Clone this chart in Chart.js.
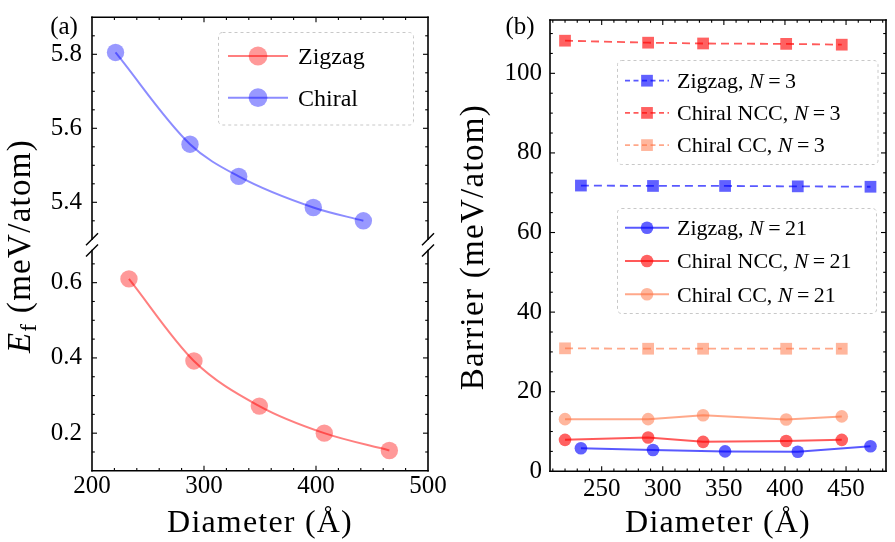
<!DOCTYPE html>
<html><head><meta charset="utf-8">
<script src="https://cdn.jsdelivr.net/npm/chart.js@4/dist/chart.umd.min.js"></script>
<style>
html,body{margin:0;padding:0;background:#fff;}
#wrap{position:relative;width:895px;height:542px;overflow:hidden;background:#fff;}
canvas{position:absolute;left:0;top:0;}
</style></head><body>
<div id="wrap">
<canvas id="cUp" width="895" height="542"></canvas>
<canvas id="cLo" width="895" height="542"></canvas>
<canvas id="cB" width="895" height="542"></canvas>
</div>
<script>
// ---------------- data ----------------
// panel (a)
const diamChiralA = [221, 287.5, 331, 397.6, 442.3];
const efChiral    = [5.805, 5.557, 5.47, 5.386, 5.35];
const diamZigzagA = [233, 291, 349.4, 407.4, 465.5];
const efZigzag    = [0.61, 0.392, 0.272, 0.2, 0.154];
const labelsA     = ['Zigzag', 'Chiral'];
// panel (b)
const diamZigzagB    = [233, 292, 351, 410.5, 470];
const diamChiralB    = [220, 288, 333, 401, 446.5];
const barZigzag3     = [71.8, 71.7, 71.7, 71.6, 71.5];
const barChiralNCC3  = [108.2, 107.7, 107.5, 107.4, 107.2];
const barChiralCC3   = [30.9, 30.8, 30.8, 30.8, 30.8];
const barZigzag21    = [5.8, 5.35, 5.0, 4.9, 6.3];
const barChiralNCC21 = [7.9, 8.5, 7.4, 7.6, 7.9];
const barChiralCC21  = [13.1, 13.1, 14.1, 13.0, 13.8];
const labelsB = ['Zigzag, N=3', 'Chiral NCC, N=3', 'Chiral CC, N=3',
                 'Zigzag, N=21', 'Chiral NCC, N=21', 'Chiral CC, N=21'];
// tick labels
const xTicksA  = [200, 300, 400, 500];
const yTicksUp = [5.4, 5.6, 5.8];
const yTicksLo = [0.2, 0.4, 0.6];
const xTicksB  = [250, 300, 350, 400, 450];
const yTicksB  = [0, 20, 40, 60, 80, 100];
const xTitle = 'Diameter (Å)';
const yTitleB = 'Barrier (meV/atom)';

// ---------------- styles ----------------
const FONT = '"Liberation Serif", "Times New Roman", serif';
const ST = {
  zigA:  {line:'rgba(255,0,0,0.5)',  fill:'rgba(255,0,0,0.4)',  r:8.7, shape:'circle', lw:2, smooth:true},
  chiA:  {line:'rgba(0,0,255,0.45)', fill:'rgba(0,0,255,0.4)',  r:8.7, shape:'circle', lw:2, smooth:true},
  zig3:  {line:'rgba(0,0,255,0.65)', fill:'rgba(0,0,255,0.62)', r:8.3, shape:'rect', lw:1.8, dash:[8,5]},
  ncc3:  {line:'rgba(255,0,0,0.65)', fill:'rgba(255,0,0,0.62)', r:8.3, shape:'rect', lw:1.8, dash:[8,5]},
  cc3:   {line:'rgba(255,110,60,0.6)', fill:'rgba(255,110,60,0.5)', r:8.3, shape:'rect', lw:1.8, dash:[8,5]},
  zig21: {line:'rgba(0,0,255,0.65)', fill:'rgba(0,0,255,0.62)', r:6.3, shape:'circle', lw:2},
  ncc21: {line:'rgba(255,0,0,0.65)', fill:'rgba(255,0,0,0.62)', r:6.3, shape:'circle', lw:2},
  cc21:  {line:'rgba(255,110,60,0.6)', fill:'rgba(255,110,60,0.5)', r:6.3, shape:'circle', lw:2}
};

function series(xs, ys, st, label) {
  return {
    label,
    data: xs.map((x, i) => ({x, y: ys[i]})),
    borderColor: st.line, backgroundColor: st.fill,
    pointBackgroundColor: st.fill, pointBorderWidth: 0, pointBorderColor: 'rgba(0,0,0,0)',
    pointRadius: st.r, pointHoverRadius: st.r, pointStyle: st.shape,
    borderWidth: st.lw, borderDash: st.dash || [],
    cubicInterpolationMode: st.smooth ? 'monotone' : 'default', tension: 0,
    fill: false, clip: false
  };
}

const tickFont = {family: FONT, size: 25};
function yScale(min, max, ticks, width, tl, fmt) {
  return {
    type: 'linear', position: 'left', min, max, bounds: 'data',
    afterBuildTicks: s => { s.ticks = ticks.map(v => ({value: v})); },
    afterFit: s => { s.width = width; s.paddingTop = 0; s.paddingBottom = 0; },
    grid: {display: false, drawTicks: true, tickLength: tl},
    border: {display: false},
    ticks: {padding: 0, font: tickFont, color: '#000', callback: fmt}
  };
}
function xScale(min, max, ticks, height, tl, show) {
  return {
    type: 'linear', position: 'bottom', min, max, bounds: 'data', display: show,
    afterBuildTicks: s => { s.ticks = ticks.map(v => ({value: v})); },
    afterFit: s => { if (show) s.height = height; s.paddingLeft = 0; s.paddingRight = 0; },
    grid: {display: false, drawTicks: true, tickLength: tl},
    border: {display: false},
    ticks: {padding: 0, font: tickFont, color: '#000', maxRotation: 0, autoSkip: false,
            callback: v => String(Math.round(v))}
  };
}

// ---------------- frame / ticks plugin ----------------
function makeFrame(cfg) {
  return {
    id: 'frame',
    afterDraw(chart) {
      const ctx = chart.ctx, a = chart.chartArea, xs = chart.scales.x, ys = chart.scales.y;
      const has = s => cfg.sides.indexOf(s) >= 0;
      const seg = (x1, y1, x2, y2) => { ctx.beginPath(); ctx.moveTo(x1, y1); ctx.lineTo(x2, y2); ctx.stroke(); };
      const minors = (min, max, step, majors) => {
        const out = [];
        for (let k = Math.ceil(min / step - 1e-9); k * step <= max + 1e-9; k++) {
          const v = k * step;
          if (!majors.some(m => Math.abs(m - v) < step * 1e-3)) out.push(v);
        }
        return out;
      };
      ctx.save();
      ctx.strokeStyle = '#000';
      ctx.lineWidth = 1.1;
      const xt = (vals, len) => vals.forEach(v => {
        const p = xs.getPixelForValue(v);
        if (p < a.left + 1 || p > a.right - 1) return;
        if (has('bottom')) seg(p, a.bottom, p, a.bottom - len);
        if (has('top')) seg(p, a.top, p, a.top + len);
      });
      const yt = (vals, len) => vals.forEach(v => {
        const p = ys.getPixelForValue(v);
        if (p < a.top + 1 || p > a.bottom - 1) return;
        if (has('left')) seg(a.left, p, a.left + len, p);
        if (has('right')) seg(a.right, p, a.right - len, p);
      });
      xt(cfg.xMajor, 5); xt(minors(xs.min, xs.max, cfg.xMinor, cfg.xMajor), 2.8);
      yt(cfg.yMajor, 5); yt(minors(ys.min, ys.max, cfg.yMinor, cfg.yMajor), 2.8);
      ctx.lineWidth = 1.6; ctx.lineCap = 'square';
      if (has('left')) seg(a.left, a.top, a.left, a.bottom);
      if (has('right')) seg(a.right, a.top, a.right, a.bottom);
      if (has('top')) seg(a.left, a.top, a.right, a.top);
      if (has('bottom')) seg(a.left, a.bottom, a.right, a.bottom);
      if (cfg.brk) {
        const y = cfg.brk === 'bottom' ? a.bottom : a.top;
        ctx.lineWidth = 1.4; ctx.lineCap = 'butt';
        [a.left, a.right].forEach(x => seg(x - 6, y + 6, x + 6, y - 6));
      }
      ctx.restore();
    }
  };
}

// ---------------- text helpers ----------------
function rich(label, size) {
  const n = `${size}px ${FONT}`, it = `italic ${size}px ${FONT}`;
  const m = label.match(/^(.*?)N=(\d+)$/);
  if (!m) return [{t: label, f: n}];
  return [{t: m[1], f: n}, {t: 'N', f: it}, {t: '\u2009=\u2009' + m[2], f: n}];
}
function drawParts(ctx, parts, x, y) {
  parts.forEach(p => {
    ctx.font = p.f;
    ctx.fillText(p.t, x, y + (p.dy || 0));
    x += ctx.measureText(p.t).width;
  });
}
function partsWidth(ctx, parts) {
  let w = 0;
  parts.forEach(p => { ctx.font = p.f; w += ctx.measureText(p.t).width; });
  return w;
}
function drawLegend(ctx, box, items, cfg) {
  ctx.save();
  ctx.strokeStyle = '#c8c8c8'; ctx.lineWidth = 1; ctx.setLineDash([3, 3]);
  ctx.beginPath(); ctx.roundRect(box.x, box.y, box.w, box.h, 4); ctx.stroke();
  ctx.setLineDash([]);
  items.forEach((it, i) => {
    const y = cfg.y0 + i * cfg.dy;
    const st = it.st;
    ctx.strokeStyle = st.line; ctx.lineWidth = st.lw;
    ctx.setLineDash(st.dash ? [5, 3.5] : []);
    ctx.beginPath(); ctx.moveTo(cfg.x0, y); ctx.lineTo(cfg.x1, y); ctx.stroke();
    ctx.setLineDash([]);
    ctx.fillStyle = st.fill;
    Chart.helpers.drawPoint(ctx, {pointStyle: st.shape, radius: st.r * (cfg.ms || 1), rotation: 0, borderWidth: 0}, (cfg.x0 + cfg.x1) / 2, y);
    ctx.fillStyle = '#000'; ctx.textBaseline = 'alphabetic'; ctx.textAlign = 'left';
    drawParts(ctx, rich(it.label, cfg.size), cfg.tx, y + cfg.size * 0.33);
  });
  ctx.restore();
}
function rotatedTitle(ctx, parts, x, y) {
  ctx.save();
  ctx.letterSpacing = '1.3px';
  ctx.translate(x, y); ctx.rotate(-Math.PI / 2);
  ctx.fillStyle = '#000'; ctx.textAlign = 'left'; ctx.textBaseline = 'alphabetic';
  const w = partsWidth(ctx, parts);
  drawParts(ctx, parts, -w / 2, 0);
  ctx.restore();
}
function xTitleDraw(ctx, text, cx, y) {
  ctx.save();
  ctx.letterSpacing = '1.2px';
  ctx.fillStyle = '#000'; ctx.textAlign = 'center'; ctx.textBaseline = 'alphabetic';
  ctx.font = `32px ${FONT}`;
  ctx.fillText(text, cx, y);
  ctx.restore();
}

const baseOpts = (padding) => ({
  responsive: false, animation: false, events: [], devicePixelRatio: 1,
  layout: {padding},
  plugins: {legend: {display: false}, tooltip: {enabled: false}, title: {display: false}}
});

// ---------------- chart (a) upper: Chiral ----------------
const chiralDs = series(diamChiralA, efChiral, ST.chiA, labelsA[1]);
const zigzagDs = series(diamZigzagA, efZigzag, ST.zigA, labelsA[0]);

const optUp = baseOpts({left: 0, right: 467, top: 17.3, bottom: 542 - 239.3});
optUp.scales = {
  x: xScale(200, 500, xTicksA, 0, 0, false),
  y: yScale(5.3, 5.9, yTicksUp, 92, 10, v => v.toFixed(1))
};
new Chart(document.getElementById('cUp'), {
  type: 'line',
  data: {datasets: [chiralDs]},
  options: optUp,
  plugins: [
    makeFrame({sides: ['left', 'right', 'top'], xMajor: xTicksA, xMinor: 20, yMajor: yTicksUp, yMinor: 0.05, brk: 'bottom'}),
    {id: 'textA', afterDraw(chart) {
      const ctx = chart.ctx;
      ctx.save();
      ctx.fillStyle = '#000'; ctx.textAlign = 'center'; ctx.textBaseline = 'alphabetic';
      ctx.font = `25px ${FONT}`;
      ctx.fillText('(a)', 64, 34);
      ctx.restore();
      rotatedTitle(ctx, [
        {t: 'E', f: `italic 33px ${FONT}`},
        {t: 'f', f: `23px ${FONT}`, dy: 6},
        {t: ' (meV/atom)', f: `33px ${FONT}`}
      ], 30, 246);
      drawLegend(ctx, {x: 218.5, y: 32.5, w: 195, h: 92.5},
        [{label: labelsA[0], st: ST.zigA}, {label: labelsA[1], st: ST.chiA}],
        {x0: 228, x1: 288, tx: 298, y0: 56, dy: 41.7, size: 24, ms: 1.08});
    }}
  ]
});

// ---------------- chart (a) lower: Zigzag ----------------
const optLo = baseOpts({left: 0, right: 467, top: 250.5, bottom: 0});
optLo.scales = {
  x: xScale(200, 500, xTicksA, 542 - 470.8, 1, true),
  y: yScale(0.1, 0.6855, yTicksLo, 92, 10, v => v.toFixed(1))
};
new Chart(document.getElementById('cLo'), {
  type: 'line',
  data: {datasets: [zigzagDs]},
  options: optLo,
  plugins: [
    makeFrame({sides: ['left', 'right', 'bottom'], xMajor: xTicksA, xMinor: 20, yMajor: yTicksLo, yMinor: 0.05, brk: 'top'}),
    {id: 'textLo', afterDraw(chart) {
      const a = chart.chartArea;
      xTitleDraw(chart.ctx, xTitle, (a.left + a.right) / 2, 532);
    }}
  ]
});

// ---------------- chart (b) ----------------
const dsB = [
  series(diamZigzagB, barZigzag3, ST.zig3, labelsB[0]),
  series(diamChiralB, barChiralNCC3, ST.ncc3, labelsB[1]),
  series(diamChiralB, barChiralCC3, ST.cc3, labelsB[2]),
  series(diamZigzagB, barZigzag21, ST.zig21, labelsB[3]),
  series(diamChiralB, barChiralNCC21, ST.ncc21, labelsB[4]),
  series(diamChiralB, barChiralCC21, ST.cc21, labelsB[5])
];
const stB = [ST.zig3, ST.ncc3, ST.cc3, ST.zig21, ST.ncc21, ST.cc21];
const optB = baseOpts({left: 450, right: 9, top: 20, bottom: 0});
optB.scales = {
  x: xScale(207.7, 482.7, xTicksB, 542 - 471.3, 3, true),
  y: yScale(0, 113.4, yTicksB, 100, 8, v => String(Math.round(v)))
};
new Chart(document.getElementById('cB'), {
  type: 'line',
  data: {datasets: dsB},
  options: optB,
  plugins: [
    makeFrame({sides: ['left', 'right', 'top', 'bottom'], xMajor: xTicksB, xMinor: 10, yMajor: yTicksB, yMinor: 5}),
    {id: 'textB', afterDraw(chart) {
      const ctx = chart.ctx, a = chart.chartArea;
      ctx.save();
      ctx.fillStyle = '#000'; ctx.textAlign = 'center'; ctx.textBaseline = 'alphabetic';
      ctx.font = `25px ${FONT}`;
      ctx.fillText('(b)', 520, 34);
      ctx.restore();
      xTitleDraw(ctx, xTitle, (a.left + a.right) / 2, 532);
      rotatedTitle(ctx, [{t: yTitleB, f: `33px ${FONT}`}], 483, (a.top + a.bottom) / 2 + 1.5);
      drawLegend(ctx, {x: 617.5, y: 60.5, w: 260.5, h: 104},
        [0, 1, 2].map(i => ({label: labelsB[i], st: stB[i]})),
        {x0: 625, x1: 669, tx: 677, y0: 80.7, dy: 32.2, size: 22});
      drawLegend(ctx, {x: 617.5, y: 208.5, w: 259, h: 105},
        [3, 4, 5].map(i => ({label: labelsB[i], st: stB[i]})),
        {x0: 625, x1: 669, tx: 677, y0: 227.7, dy: 33.3, size: 22});
    }}
  ]
});
</script>
</body></html>
